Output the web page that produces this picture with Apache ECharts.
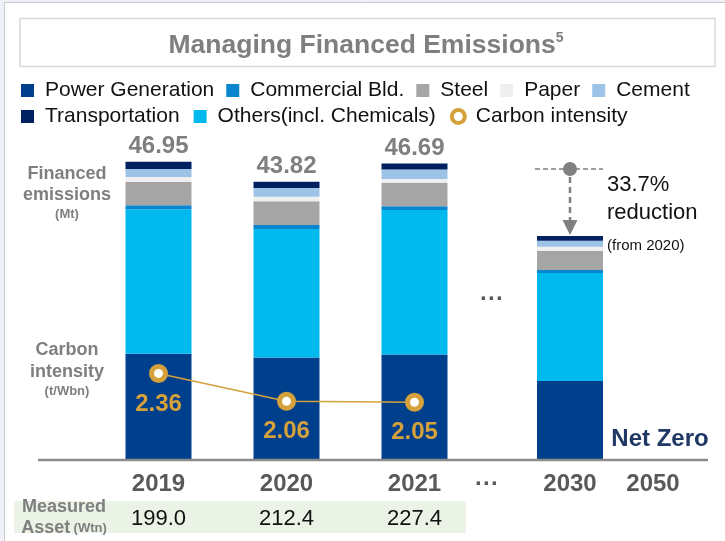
<!DOCTYPE html>
<html>
<head>
<meta charset="utf-8">
<script src="https://cdn.jsdelivr.net/npm/echarts@6/dist/echarts.min.js"></script>
<style>
  html, body { margin: 0; padding: 0; background: #ffffff; }
  #chart { width: 725px; height: 541px; }
</style>
</head>
<body>
<div id="chart"></div>
<script>
// Years on the horizontal axis ("···" marks the skipped years)
const years = ['2019', '2020', '2021', '···', '2030', '2050'];

// Financed emissions by sector (Mt), one value per year
const powerGeneration = [16.72, 16.13, 16.61, null, 12.44, null];
const others          = [22.75, 20.26, 22.75, null, 17.01, null];
const commercialBld   = [0.64, 0.62, 0.59, null, 0.47, null];
const steel           = [3.66, 3.74, 3.71, null, 3.04, null];
const paper           = [0.80, 0.72, 0.59, null, 0.63, null];
const cement          = [1.27, 1.38, 1.48, null, 0.94, null];
const transportation  = [1.11, 0.97, 0.96, null, 0.74, null];

// Carbon intensity (t/Wbn) for the reported years
const carbonIntensity = [2.36, 2.06, 2.05];

// Measured asset (Wtn) for the reported years
const measuredAsset = [199.0, 212.4, 227.4];

// Target note for 2030
const reductionNote = ['33.7%', 'reduction', '(from 2020)'];

const FONT = '"Liberation Sans", Arial, Helvetica, sans-serif';
const GOLD = '#d4a13c';
const GREY_TEXT = '#7f7f7f';
const AXIS_TEXT = '#595959';

// Stack order, bottom to top
const segments = [
  { name: 'Power Generation',        data: powerGeneration, color: '#003f8c' },
  { name: 'Others(incl. Chemicals)', data: others,          color: '#00b9ef' },
  { name: 'Commercial Bld.',         data: commercialBld,   color: '#0887d0' },
  { name: 'Steel',                   data: steel,           color: '#a5a5a5' },
  { name: 'Paper',                   data: paper,           color: '#efefef' },
  { name: 'Cement',                  data: cement,          color: '#9dc3e6' },
  { name: 'Transportation',          data: transportation,  color: '#002060' }
];

const totals = years.map((_, i) =>
  segments.reduce((s, seg) => s + (seg.data[i] == null ? 0 : seg.data[i]), 0));

// Reported years sit in the first grid, the outlook years in the second
const splitA = arr => arr.slice(0, 3);
const splitB = arr => arr.slice(3);

const series = [];
segments.forEach((seg, k) => {
  const isTop = k === segments.length - 1;
  series.push({
    name: seg.name, type: 'bar', stack: 'reported',
    xAxisIndex: 0, yAxisIndex: 0, barWidth: 66,
    data: splitA(seg.data),
    itemStyle: { color: seg.color },
    label: isTop ? {
      show: true, position: 'top', distance: 3,
      fontFamily: FONT, fontSize: 24, fontWeight: 'bold', color: GREY_TEXT,
      formatter: p => totals[p.dataIndex].toFixed(2)
    } : { show: false },
    emphasis: { disabled: true }
  });
  series.push({
    name: seg.name, type: 'bar', stack: 'outlook',
    xAxisIndex: 2, yAxisIndex: 2, barWidth: 66,
    data: splitB(seg.data),
    itemStyle: { color: seg.color },
    emphasis: { disabled: true }
  });
});

series.push({
  name: 'Carbon intensity', type: 'line',
  xAxisIndex: 0, yAxisIndex: 1, z: 6,
  data: carbonIntensity,
  symbol: 'circle', symbolSize: 14,
  itemStyle: { color: '#ffffff', borderColor: GOLD, borderWidth: 5 },
  lineStyle: { color: GOLD, width: 1.5 },
  label: {
    show: true, position: 'bottom', distance: 9,
    fontFamily: FONT, fontSize: 24, fontWeight: 'bold', color: GOLD,
    formatter: p => p.value.toFixed(2)
  },
  emphasis: { disabled: true }
});

const yearAxisStyle = {
  type: 'category',
  axisLine: { show: false }, axisTick: { show: false }, splitLine: { show: false },
  axisLabel: { margin: 12, fontFamily: FONT, fontSize: 24, fontWeight: 'bold', color: AXIS_TEXT, interval: 0 }
};

const legendText = { fontFamily: FONT, fontSize: 21, color: '#111111', padding: [0, 0, 0, 6] };
const legendBase = { left: 21, padding: 0, itemWidth: 13, itemHeight: 13, itemGap: 12, icon: 'rect', selectedMode: false, textStyle: legendText };

const option = {
  animation: false,
  backgroundColor: '#ffffff',
  legend: [
    Object.assign({}, legendBase, { top: 80, data: ['Power Generation', 'Commercial Bld.', 'Steel', 'Paper', 'Cement'] }),
    Object.assign({}, legendBase, { top: 106, itemGap: 14, data: [
      'Transportation', 'Others(incl. Chemicals)',
      { name: 'Carbon intensity', icon: 'circle', itemStyle: { color: '#ffffff', borderColor: GOLD, borderWidth: 4 } }
    ] })
  ],
  grid: [
    { left: 94.5, width: 384, top: 142.5, height: 317.5, outerBoundsMode: 'none' },
    { left: 445.5, width: 249, top: 142.5, height: 317.5, outerBoundsMode: 'none' }
  ],
  xAxis: [
    Object.assign({}, yearAxisStyle, { gridIndex: 0, data: splitA(years) }),
    {
      type: 'category', gridIndex: 0, position: 'bottom', offset: 40,
      data: measuredAsset.map(v => v.toFixed(1)),
      axisLine: { show: false }, axisTick: { show: false },
      axisLabel: { margin: 8, fontFamily: FONT, fontSize: 22, color: '#111111', interval: 0 }
    },
    Object.assign({}, yearAxisStyle, { gridIndex: 1, data: splitB(years) })
  ],
  yAxis: [
    { type: 'value', gridIndex: 0, min: 0, max: 50, show: false },
    { type: 'value', gridIndex: 0, min: 1.43, max: 4.84, show: false },
    { type: 'value', gridIndex: 1, min: 0, max: 50, show: false }
  ],
  series: series
};

const chart = echarts.init(document.getElementById('chart'), null, { renderer: 'canvas' });
chart.setOption(option);

// Decorations: frame, title, side captions, baseline and the 2030 reduction arrow
const tip = chart.convertToPixel({ gridIndex: 1 }, ['2030', totals[4]]);
const ax = tip[0];
const tipY = tip[1];
const headY = tipY - 67;

const text = (x, y, str, size, weight, color, align) => ({
  type: 'text', x: x, y: y, z: 10,
  style: { text: str, fontFamily: FONT, fontSize: size, fontWeight: weight || 'normal',
           fill: color, align: align || 'center', verticalAlign: 'middle' }
});

chart.setOption({
  graphic: [
    { type: 'rect', z: -20, shape: { x: 0, y: 0, width: 725, height: 541 }, style: { fill: '#eef1f7' } },
    { type: 'rect', z: -19, shape: { x: 4.5, y: 2.5, width: 740, height: 560 }, style: { fill: '#ffffff', stroke: '#c9c9c9', lineWidth: 1 } },
    { type: 'rect', z: -18, shape: { x: 20, y: 18.5, width: 695, height: 48 }, style: { fill: 'none', stroke: '#d9d9d9', lineWidth: 1.5 } },
    {
      type: 'text', x: 366, y: 46, z: 10,
      style: {
        text: '{t|Managing Financed Emissions}{s|5}',
        align: 'center', verticalAlign: 'middle',
        rich: {
          t: { fontFamily: FONT, fontSize: 26.5, fontWeight: 'bold', fill: GREY_TEXT, lineHeight: 30 },
          s: { fontFamily: FONT, fontSize: 14, fontWeight: 'bold', fill: GREY_TEXT, verticalAlign: 'top', lineHeight: 18 }
        }
      }
    },
    { type: 'rect', z: -18, shape: { x: 14, y: 501, width: 452, height: 32 }, style: { fill: '#ebf2e6' } },
    { type: 'line', z: 8, shape: { x1: 38, y1: 460, x2: 708, y2: 460 }, style: { stroke: '#8c8c8c', lineWidth: 2.5 } },

    text(67, 174, 'Financed', 18, 'bold', GREY_TEXT),
    text(67, 195, 'emissions', 18, 'bold', GREY_TEXT),
    text(67, 214, '(Mt)', 13, 'bold', GREY_TEXT),
    text(67, 350, 'Carbon', 18, 'bold', GREY_TEXT),
    text(67, 372, 'intensity', 18, 'bold', GREY_TEXT),
    text(67, 391, '(t/Wbn)', 13, 'bold', GREY_TEXT),

    {
      type: 'text', x: 64, y: 518, z: 10,
      style: {
        text: '{m|Measured}\n{m|Asset} {u|(Wtn)}',
        align: 'center', verticalAlign: 'middle',
        rich: {
          m: { fontFamily: FONT, fontSize: 18, fontWeight: 'bold', fill: GREY_TEXT, lineHeight: 21 },
          u: { fontFamily: FONT, fontSize: 13, fontWeight: 'bold', fill: GREY_TEXT, lineHeight: 21 }
        }
      }
    },

    text(492, 299, years[3], 24, 'bold', AXIS_TEXT),
    text(660, 439, 'Net Zero', 24, 'bold', '#1f3864'),

    // 2030 reduction arrow
    { type: 'line', z: 9, shape: { x1: ax - 35, y1: headY, x2: ax + 33, y2: headY }, style: { stroke: '#808080', lineWidth: 1.5, lineDash: [5, 3] } },
    { type: 'line', z: 9, shape: { x1: ax, y1: headY + 8, x2: ax, y2: tipY - 16 }, style: { stroke: '#808080', lineWidth: 2.5, lineDash: [6, 4] } },
    { type: 'polygon', z: 9, shape: { points: [[ax - 7.5, tipY - 16], [ax + 7.5, tipY - 16], [ax, tipY - 1]] }, style: { fill: '#808080' } },
    { type: 'circle', z: 10, shape: { cx: ax, cy: headY, r: 7 }, style: { fill: '#808080' } },
    text(ax + 37, headY + 16, reductionNote[0], 22, 'normal', '#111111', 'left'),
    text(ax + 37, headY + 44, reductionNote[1], 22, 'normal', '#111111', 'left'),
    text(ax + 37, headY + 77, reductionNote[2], 15, 'normal', '#111111', 'left')
  ]
});
</script>
</body>
</html>
